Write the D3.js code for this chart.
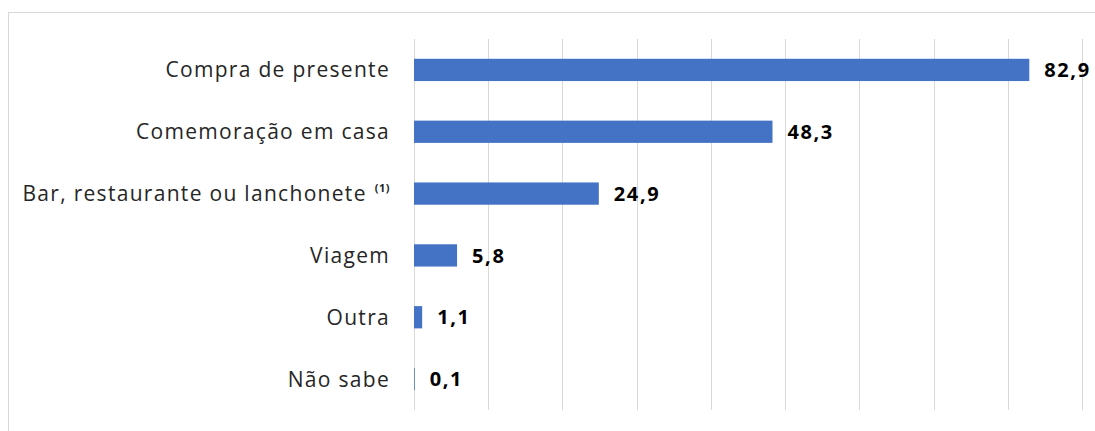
<!DOCTYPE html>
<html>
<head>
<meta charset="utf-8">
<script src="https://cdn.jsdelivr.net/npm/d3@7"></script>
<style>
    body { margin: 0; background: #fff; }
    text { font-family: "Open Sans", sans-serif; }
</style>
</head>
<body>
<div class="container"></div>
<script>
var categories = ["Compra de presente", "Comemoração em casa", "Bar, restaurante ou lanchonete", "Viagem", "Outra", "Não sabe"];
var values = [82.9, 48.3, 24.9, 5.8, 1.1, 0.1];
var valueLabels = ["82,9", "48,3", "24,9", "5,8", "1,1", "0,1"];
var superscripts = ["", "", "(1)", "", "", ""];
var xTicks = [0, 10, 20, 30, 40, 50, 60, 70, 80, 90];

var svgWidth = 1095;
var svgHeight = 431;

var chartMargin = {
    top: 39,
    bottom: 21,
    left: 414,
    right: 13
};

var chartWidth = svgWidth - (chartMargin.left + chartMargin.right);
var chartHeight = svgHeight - (chartMargin.top + chartMargin.bottom);

var svg = d3
    .select(".container")
    .append("svg")
    .attr("height", svgHeight)
    .attr("width", svgWidth);

// light frame around the chart area
svg.append("rect")
    .attr("x", 8.5)
    .attr("y", 12.5)
    .attr("width", svgWidth)
    .attr("height", svgHeight)
    .attr("fill", "none")
    .attr("stroke", "#d9d9d9");

var chartGroup = svg.append("g")
    .attr("transform", `translate(${chartMargin.left}, ${chartMargin.top})`);

var xLinearScale = d3.scaleLinear()
    .domain([0, 90])
    .range([0, chartWidth]);

var yBandScale = d3.scaleBand()
    .domain(categories)
    .range([0, chartHeight])
    .paddingInner(0.64)
    .paddingOuter(0.32);

// vertical gridlines
chartGroup.selectAll(".grid")
    .data(xTicks)
    .enter()
    .append("line")
    .attr("x1", d => Math.round(xLinearScale(d)) + 0.5)
    .attr("x2", d => Math.round(xLinearScale(d)) + 0.5)
    .attr("y1", 0)
    .attr("y2", chartHeight)
    .attr("stroke", "#d9d9d9")
    .attr("stroke-width", 1);

chartGroup.selectAll(".bar")
    .data(values)
    .enter()
    .append("rect")
    .classed("bar", true)
    .attr("x", 0)
    .attr("y", (d, i) => yBandScale(categories[i]))
    .attr("width", d => xLinearScale(d))
    .attr("height", yBandScale.bandwidth())
    .attr("fill", "#4472c4");

// category labels
var catLabels = chartGroup.selectAll(".cat")
    .data(categories)
    .enter()
    .append("text")
    .attr("class", "cat")
    .attr("x", -24)
    .attr("y", d => yBandScale(d) + yBandScale.bandwidth() / 2)
    .attr("dy", ".36em")
    .attr("text-anchor", "end")
    .attr("font-size", "21px")
    .attr("letter-spacing", "1.3px")
    .attr("fill", "#262626");

catLabels.append("tspan")
    .text(d => d);
catLabels.append("tspan")
    .attr("font-size", "11px")
    .attr("font-weight", "bold")
    .attr("letter-spacing", "0.5px")
    .attr("dy", "-0.8em")
    .attr("dx", (d, i) => superscripts[i] ? 8 : 0)
    .text((d, i) => superscripts[i]);

// value labels
chartGroup.selectAll(".label")
    .data(values)
    .enter()
    .append("text")
    .attr("class", "label")
    .attr("x", d => xLinearScale(d) + 15)
    .attr("y", (d, i) => yBandScale(categories[i]) + yBandScale.bandwidth() / 2)
    .attr("dy", ".36em")
    .attr("font-size", "20px")
    .attr("font-weight", "bold")
    .attr("letter-spacing", "1.6px")
    .attr("fill", "#000")
    .text((d, i) => valueLabels[i]);
</script>
</body>
</html>
